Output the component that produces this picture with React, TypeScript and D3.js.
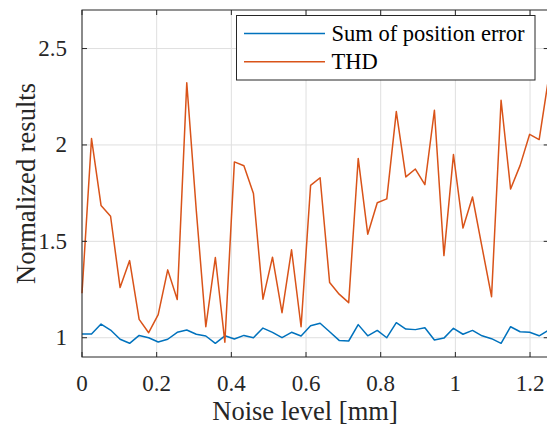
import React from "react";
import * as d3 from "d3";

const N = 50;
const noiseLevels: number[] = d3.range(N).map((i) => (1.25 * i) / (N - 1));

const sumPositionError: number[] = [
  1.019, 1.019, 1.071, 1.04, 0.992, 0.971, 1.012, 1.0, 0.978, 0.992,
  1.028, 1.04, 1.018, 1.009, 0.971, 1.01, 0.993, 1.012, 1.0, 1.05,
  1.028, 1.0, 1.028, 1.009, 1.062, 1.075, 1.031, 0.986, 0.983, 1.068,
  1.01, 1.038, 1.0, 1.078, 1.045, 1.042, 1.052, 0.988, 0.998, 1.049,
  1.018, 1.038, 1.01, 0.995, 0.971, 1.057, 1.031, 1.028, 1.01, 1.04,
];

const thd: number[] = [
  1.231, 2.033, 1.686, 1.63, 1.26, 1.4, 1.095, 1.026, 1.12, 1.352,
  1.198, 2.322, 1.66, 1.057, 1.416, 0.977, 1.912, 1.892, 1.748, 1.2,
  1.418, 1.13, 1.456, 1.057, 1.79, 1.83, 1.286, 1.226, 1.182, 1.93,
  1.537, 1.7, 1.72, 2.173, 1.834, 1.875, 1.794, 2.18, 1.426, 1.95,
  1.569, 1.73, 1.47, 1.213, 2.232, 1.771, 1.894, 2.055, 2.028, 2.35,
];

const xTicks = [0, 0.2, 0.4, 0.6, 0.8, 1, 1.2];
const yTicks = [1, 1.5, 2, 2.5];
const seriesNames = ["Sum of position error", "THD"];
const seriesColors = ["#0072BD", "#D95319"];

const W = 547;
const H = 432;
const L = 82;
const T = 10;
const R = 548.7;
const B = 357;
const FONT = "'Liberation Serif'";
const fmt = d3.format("~g");

export default function App() {
  const x = d3.scaleLinear().domain([0, 1.25]).range([L, R]);
  const y = d3.scaleLinear().domain([0.9, 2.7]).range([B, T]);
  const line = d3
    .line<number>()
    .x((_, i) => x(noiseLevels[i]))
    .y((d) => y(d));
  const series = [sumPositionError, thd];
  const tl = 5;

  return (
    <svg width={W} height={H} style={{ position: "absolute", left: 0, top: 0, overflow: "hidden" }}>
      <rect x={0} y={0} width={W} height={H} fill="#fff" />
      <g stroke="#dfdfdf" strokeWidth={1}>
        {xTicks.map((t) => (
          <line key={"gx" + t} x1={x(t)} x2={x(t)} y1={T} y2={B} />
        ))}
        {yTicks.map((t) => (
          <line key={"gy" + t} x1={L} x2={R} y1={y(t)} y2={y(t)} />
        ))}
      </g>
      {series.map((s, k) => (
        <path
          key={"s" + k}
          d={line(s) || ""}
          fill="none"
          stroke={seriesColors[k]}
          strokeWidth={1.5}
          strokeLinejoin="round"
        />
      ))}
      <g stroke="#262626" strokeWidth={1} fill="none">
        <rect x={L} y={T} width={R - L} height={B - T} />
        {xTicks.map((t) => (
          <g key={"tx" + t}>
            <line x1={x(t)} x2={x(t)} y1={B} y2={B - tl} />
            <line x1={x(t)} x2={x(t)} y1={T} y2={T + tl} />
          </g>
        ))}
        {yTicks.map((t) => (
          <g key={"ty" + t}>
            <line x1={L} x2={L + tl} y1={y(t)} y2={y(t)} />
            <line x1={R} x2={R - tl} y1={y(t)} y2={y(t)} />
          </g>
        ))}
      </g>
      {xTicks.map((t) => (
        <text
          key={"lx" + t}
          x={x(t)}
          y={391}
          textAnchor="middle"
          fill="#262626"
          style={{ fontFamily: FONT, fontSize: "23px" }}
        >
          {fmt(t)}
        </text>
      ))}
      {yTicks.map((t) => (
        <text
          key={"ly" + t}
          x={67}
          y={y(t) + 7.5}
          textAnchor="end"
          fill="#262626"
          style={{ fontFamily: FONT, fontSize: "23px" }}
        >
          {fmt(t)}
        </text>
      ))}
      <text
        x={305}
        y={420}
        textAnchor="middle"
        fill="#262626"
        style={{ fontFamily: FONT, fontSize: "26.5px" }}
      >
        Noise level [mm]
      </text>
      <text
        transform={`translate(35, ${(T + B) / 2}) rotate(-90)`}
        textAnchor="middle"
        fill="#262626"
        style={{ fontFamily: FONT, fontSize: "26.5px" }}
      >
        Normalized results
      </text>
      <g>
        <rect x={236.5} y={15.5} width={298.5} height={64.5} fill="#fff" stroke="#262626" strokeWidth={1} />
        {seriesNames.map((name, k) => {
          const yy = 33.5 + k * 28.2;
          return (
            <g key={name}>
              <line x1={244} x2={325} y1={yy} y2={yy} stroke={seriesColors[k]} strokeWidth={1.5} />
              <text x={331.5} y={yy + 7.5} fill="#000" style={{ fontFamily: FONT, fontSize: "22.5px" }}>
                {name}
              </text>
            </g>
          );
        })}
      </g>
    </svg>
  );
}
